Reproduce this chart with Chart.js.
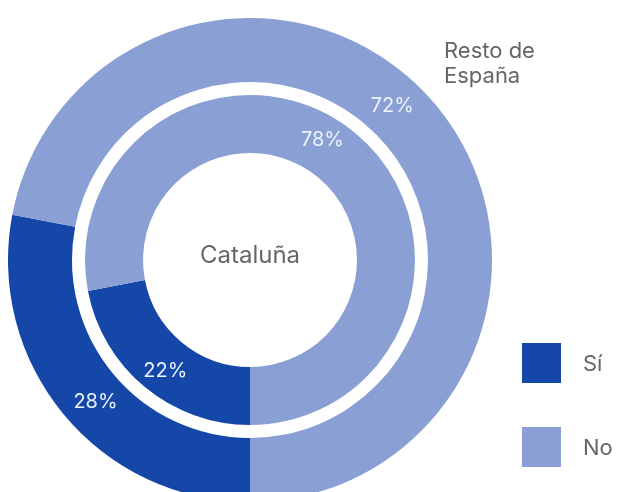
<!DOCTYPE html>
<html>
<head>
<meta charset="utf-8">
<script src="https://cdn.jsdelivr.net/npm/chart.js@4"></script>
<style>
html,body{margin:0;padding:0;background:#fff;overflow:hidden;}
#wrap{position:absolute;left:0;top:0;width:622px;height:502px;}
</style>
</head>
<body>
<div id="wrap"><canvas id="c" width="622" height="502"></canvas></div>
<script>
const categories = ['Sí', 'No'];
const restoEspana = [28, 72];
const cataluna = [22, 78];
const ringNames = ['Resto de España', 'Cataluña'];
const colors = ['#1547a8', '#8a9fd3'];

const labelPlugin = {
  id: 'labels',
  afterDraw(chart) {
    const ctx = chart.ctx;
    ctx.save();
    ctx.textAlign = 'center';
    ctx.textBaseline = 'middle';
    ctx.font = '20px Inter, Roboto, sans-serif';
    ctx.fillStyle = '#eef2fc';
    [0, 2].forEach(di => {
      const meta = chart.getDatasetMeta(di);
      const ds = chart.data.datasets[di];
      meta.data.forEach((arc, i) => {
        const p = arc.getProps(['x','y','startAngle','endAngle','innerRadius','outerRadius'], true);
        const a = p.startAngle + (p.endAngle - p.startAngle) * 0.47;
        const r = (p.innerRadius + p.outerRadius) / 2 + (di === 0 ? 0 : 4);
        ctx.fillText(ds.data[i] + '%', p.x + Math.cos(a) * r, p.y + Math.sin(a) * r);
      });
    });
    // center label
    const m = chart.getDatasetMeta(2).data[0];
    ctx.fillStyle = '#666666';
    ctx.font = '24px Inter, Roboto, sans-serif';
    ctx.fillText(ringNames[1], m.x, m.y - 4);
    // outer ring label
    ctx.textAlign = 'left';
    ctx.font = '22px Inter, Roboto, sans-serif';
    ctx.fillText('Resto de', 444, 51);
    ctx.fillText('España', 444, 76);
    // legend
    categories.forEach((c, i) => {
      const y = 343 + i * 84;
      ctx.fillStyle = colors[i];
      ctx.fillRect(522, y, 39, 40);
      ctx.fillStyle = '#666666';
      ctx.font = '22px Inter, Roboto, sans-serif';
      ctx.fillText(c, 583, y + 21);
    });
    ctx.restore();
  }
};

new Chart(document.getElementById('c'), {
  type: 'doughnut',
  data: {
    labels: categories,
    datasets: [
      { label: ringNames[0], data: restoEspana, backgroundColor: colors, borderWidth: 0, weight: 64 },
      { label: 'gap', data: [1], backgroundColor: ['rgba(0,0,0,0)'], borderWidth: 0, weight: 13 },
      { label: ringNames[1], data: cataluna, backgroundColor: colors, borderWidth: 0, weight: 58 }
    ]
  },
  options: {
    responsive: false,
    animation: false,
    rotation: 180,
    cutout: '44.2%',
    layout: { padding: { left: 8, top: 18, right: 130, bottom: 0 } },
    plugins: { legend: { display: false }, tooltip: { enabled: false } }
  },
  plugins: [labelPlugin]
});
</script>
</body>
</html>
